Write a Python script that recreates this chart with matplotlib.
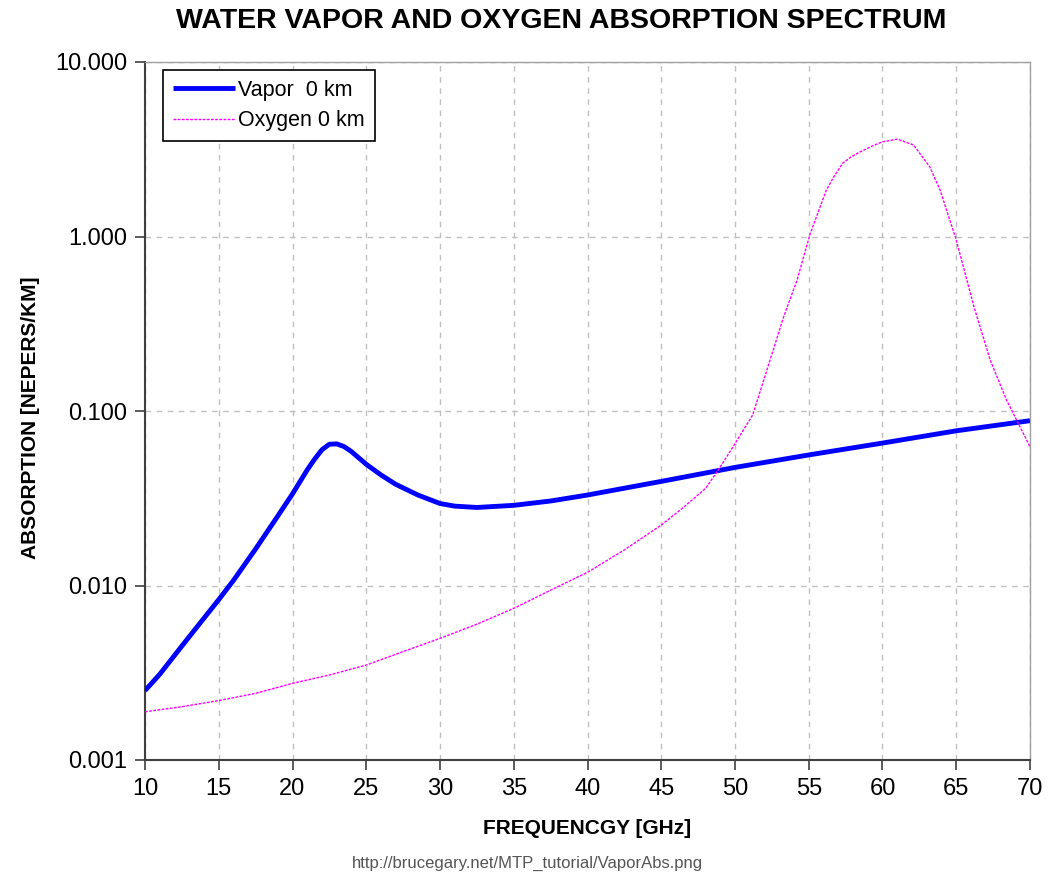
import matplotlib
matplotlib.use("Agg")
import matplotlib.pyplot as plt
from matplotlib.ticker import FixedLocator, FixedFormatter, NullLocator

plt.rcParams['font.family'] = ['Liberation Sans', 'DejaVu Sans']

# Water vapor absorption (nepers/km) at 0 km
vapor_freq = [10, 11, 12.5, 14, 15, 16, 17.5, 19, 20, 21, 21.5, 22, 22.5, 23, 23.5, 24,
              25, 26, 27, 28.5, 30, 31, 32.5, 35, 37.5, 40, 45, 50, 55, 60, 65, 70]
vapor_abs = [0.0025, 0.0031, 0.0045, 0.0065, 0.0083, 0.0107, 0.0162, 0.0250, 0.0335,
             0.046, 0.053, 0.0600, 0.0645, 0.0648, 0.0625, 0.0585,
             0.0495, 0.0430, 0.0380, 0.0330, 0.0295, 0.0285, 0.0280, 0.0288, 0.0305,
             0.0330, 0.0395, 0.0475, 0.0560, 0.0655, 0.0770, 0.0880]

# Oxygen absorption (nepers/km) at 0 km
oxy_freq = [10, 12.5, 15, 17.5, 20, 22.5, 25, 27.5, 30, 32.5, 35, 37.5, 40, 42.5, 45,
            46.5, 48, 48.8, 50, 51.2, 52.1, 53.3, 54.2, 55.1,
            56.2, 56.7, 57.3, 57.9, 58.5, 59.2, 60.0, 61.0, 62.1, 63.2, 63.9, 65.0,
            66.2, 67.3, 68.4, 70]
oxy_abs = [0.00189, 0.00202, 0.00219, 0.00241, 0.00275, 0.00307, 0.0035, 0.00418,
           0.00498, 0.0060, 0.0074, 0.0094, 0.0119, 0.0160, 0.0222,
           0.0280, 0.036, 0.045, 0.065, 0.095, 0.165, 0.347, 0.56, 1.04,
           1.85, 2.2, 2.63, 2.87, 3.06, 3.27, 3.49, 3.61, 3.35, 2.51, 1.85, 0.955,
           0.396, 0.196, 0.116, 0.0624]

x_ticks = list(range(10, 71, 5))
y_ticks = [0.001, 0.01, 0.1, 1, 10]
y_tick_labels = ["0.001", "0.010", "0.100", "1.000", "10.000"]

fig = plt.figure(figsize=(10.48, 8.75), dpi=100)
ax = fig.add_axes([145/1048, 1 - 760/875, (1030-145)/1048, (760-62)/875])

ax.plot(vapor_freq, vapor_abs, color='#0000ff', lw=3.5, label='Vapor  0 km',
        solid_capstyle='butt', solid_joinstyle='round', zorder=3)
ax.plot(oxy_freq, oxy_abs, color='#ff00ff', lw=1.0, ls=(0, (2, 1)),
        label='Oxygen 0 km', zorder=4)

ax.set_yscale('log')
ax.set_xlim(10, 70)
ax.set_ylim(0.001, 10)
ax.xaxis.set_major_locator(FixedLocator(x_ticks))
ax.yaxis.set_major_locator(FixedLocator(y_ticks))
ax.yaxis.set_major_formatter(FixedFormatter(y_tick_labels))
ax.yaxis.set_minor_locator(NullLocator())

ax.grid(True, color='#c0c0c0', ls=(0, (4, 4)), lw=1.0)
ax.set_axisbelow(True)

for s in ['left', 'bottom']:
    ax.spines[s].set_color('#404040')
    ax.spines[s].set_linewidth(1.5)
for s in ['top', 'right']:
    ax.spines[s].set_color('#a0a0a0')
    ax.spines[s].set_linewidth(1.0)

ax.tick_params(axis='both', direction='out', length=7, width=1.2, color='#404040',
               labelsize=17, pad=6)

ax.set_xlabel('FREQUENCGY [GHz]', fontsize=15, fontweight='bold', labelpad=14)
ax.set_ylabel('ABSORPTION [NEPERS/KM]', fontsize=15, fontweight='bold', va='center')
ax.yaxis.set_label_coords((30 - 145)/885, (760 - 418)/698)

fig.suptitle('WATER VAPOR AND OXYGEN ABSORPTION SPECTRUM', fontsize=20.5,
             fontweight='bold', x=561/1048, y=1 - 21/875, va='center')

leg = ax.legend(loc='upper left', bbox_to_anchor=((163 - 145)/885, 1 - 8/698),
                fontsize=15.5, frameon=True, fancybox=False, edgecolor='black',
                framealpha=1, borderpad=0.45, handlelength=2.9, handletextpad=0.15,
                labelspacing=0.45, borderaxespad=0)
leg.get_frame().set_linewidth(1.2)

fig.text(527/1048, 1 - 863/875, 'http://brucegary.net/MTP_tutorial/VaporAbs.png',
         fontsize=12, color='#555555', ha='center', va='center')

fig.savefig('out.png', dpi=100)
